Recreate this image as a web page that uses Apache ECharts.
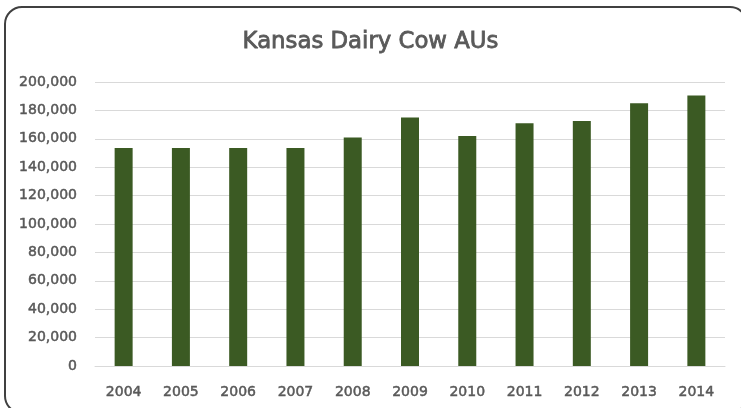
<!DOCTYPE html>
<html>
<head>
<meta charset="utf-8">
<script src="https://cdn.jsdelivr.net/npm/echarts@6/dist/echarts.min.js"></script>
<style>
html,body{margin:0;padding:0;background:#fff;}
#chart{width:741px;height:408px;}
</style>
</head>
<body>
<div id="chart"></div>
<script>
var titleText = 'Kansas Dairy Cow AUs';
var years = ['2004','2005','2006','2007','2008','2009','2010','2011','2012','2013','2014'];
var cowAUs = [153500,153500,153500,153500,161000,175000,162000,171000,172500,185000,190500];
var yMin = 0, yMax = 200000, yStep = 20000;

var textGray = '#595959';
var chart = echarts.init(document.getElementById('chart'), null, {renderer:'canvas'});
chart.setOption({
  animation:false,
  backgroundColor:'#ffffff',
  title:{
    text:titleText,
    left:'center',
    top:26,
    textStyle:{fontFamily:'DejaVu Sans',fontSize:22.8,fontWeight:'normal',color:textGray,
      textBorderColor:textGray,textBorderWidth:0.8}
  },
  grid:{left:95,right:16,top:82,bottom:42,containLabel:false},
  xAxis:{
    type:'category',
    data:years,
    axisTick:{show:false},
    axisLine:{lineStyle:{color:'#d9d9d9',width:1}},
    axisLabel:{margin:19,fontFamily:'DejaVu Sans',fontSize:14,fontWeight:'normal',color:textGray,
      textBorderColor:textGray,textBorderWidth:0.5}
  },
  yAxis:{
    type:'value',
    min:yMin,max:yMax,interval:yStep,
    axisLine:{show:false},
    axisTick:{show:false},
    splitLine:{lineStyle:{color:'#d9d9d9',width:1}},
    axisLabel:{margin:18,fontFamily:'DejaVu Sans',fontSize:14,fontWeight:'normal',color:textGray,
      textBorderColor:textGray,textBorderWidth:0.5,
      formatter:function(v){return v.toLocaleString('en-US');}}
  },
  series:[{
    type:'bar',
    data:cowAUs,
    barWidth:18,
    itemStyle:{color:'#3b5a23'}
  }],
  graphic:[{
    type:'rect',
    shape:{x:5,y:7,width:742,height:406,r:17},
    style:{fill:'none',stroke:'#404040',lineWidth:2},
    silent:true,
    z:100
  }]
});
</script>
</body>
</html>
